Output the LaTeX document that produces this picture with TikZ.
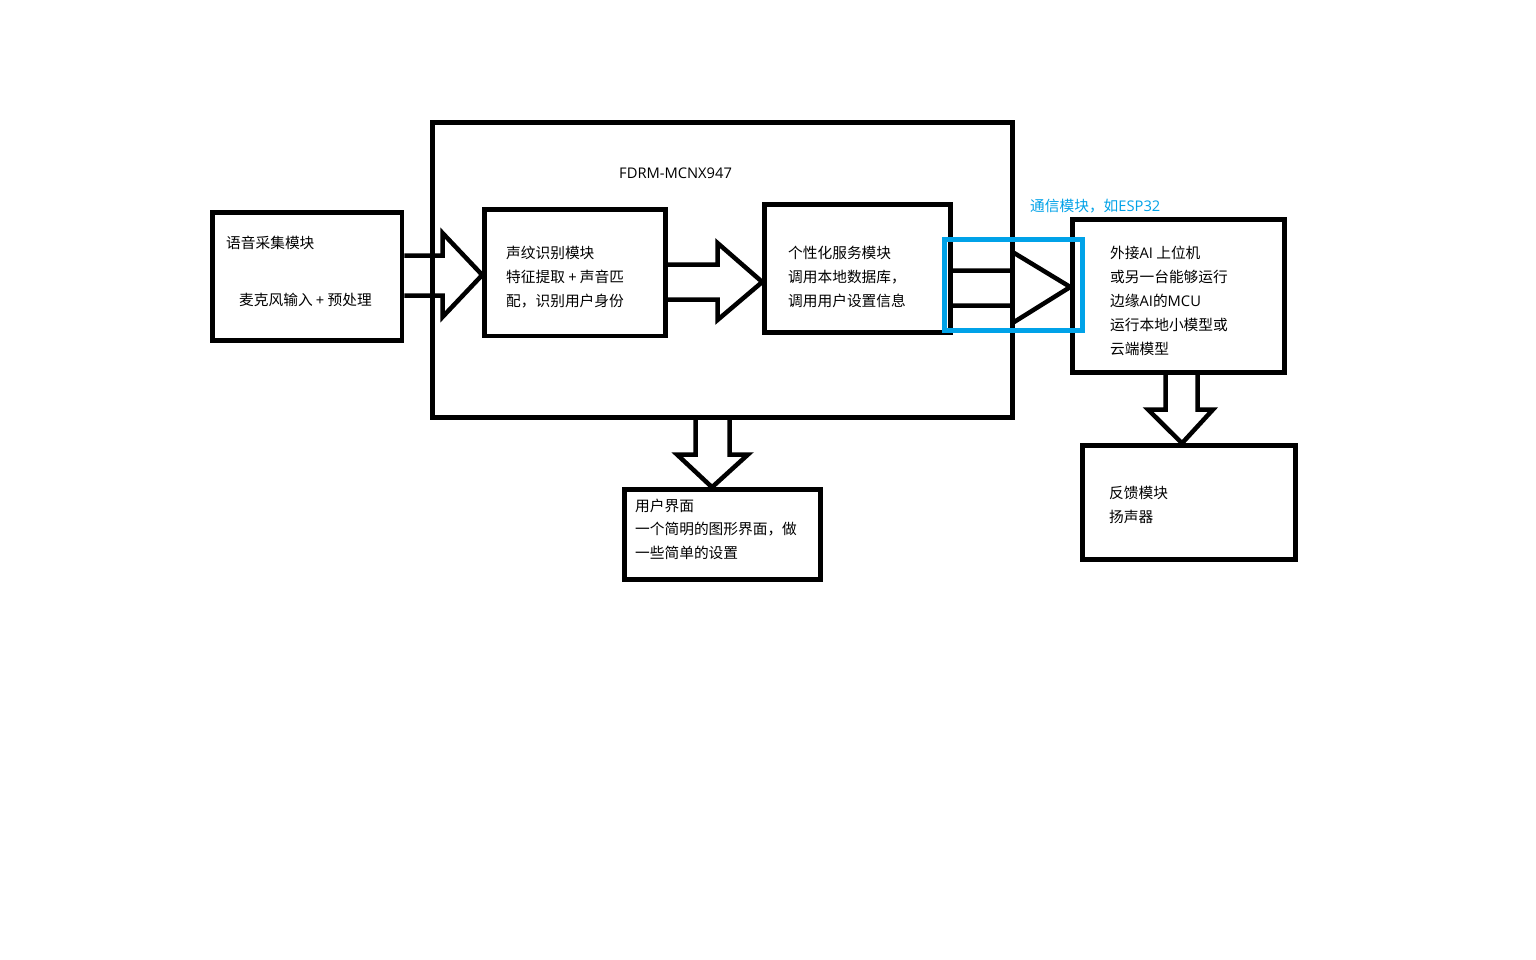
\documentclass[tikz,border=0pt]{standalone}
\usepackage{fontspec}
\setmainfont{Noto Sans CJK SC}
\newfontfamily\latf{Open Sans}
\newcommand\lat[1]{{\latf #1}}
\usetikzlibrary{calc}
\definecolor{paintblue}{HTML}{00A2E8}
\begin{document}
\begin{tikzpicture}[x=1pt,y=-1pt,
  box/.style={draw=black, line width=4.5pt, inner sep=0pt},
  blk/.style={draw=black, line width=4.5pt, line join=miter},
  bluebox/.style={draw=paintblue, line width=4.5pt, inner sep=0pt},
  txt/.style={anchor=base west, inner sep=0pt, font=\fontsize{14.7}{18}\selectfont}]
\useasboundingbox[fill=white] (0,0) rectangle (1536,960);
% boxes
\node[box, minimum width=189.5pt, minimum height=128pt] (b1) at (307.25,276.5) {};
\node[box, minimum width=580pt, minimum height=295pt] (big) at (722.5,270) {};
\node[box, minimum width=181pt, minimum height=126.5pt] (b2) at (575,272.75) {};
\node[box, minimum width=186pt, minimum height=128pt] (b3) at (857.5,268.5) {};
\node[box, minimum width=212pt, minimum height=153pt] (b4) at (1178.5,296) {};
\node[box, minimum width=213pt, minimum height=114pt] (b5) at (1189,502.5) {};
\node[box, minimum width=196pt, minimum height=90pt] (b6) at (722.5,534.5) {};
% block arrows
\draw[blk] (b1.east |- 0,255.5) -- (442.5,255.5) -- (442.5,233) -- (b2.west |- 0,275)
  -- (442.5,317) -- (442.5,295.5) -- (b1.east |- 0,295.5);
\draw[blk] (b2.east |- 0,264.5) -- (717.5,264.5) -- (717.5,243) -- (b3.west |- 0,282)
  -- (717.5,320) -- (717.5,299.5) -- (b2.east |- 0,299.5);
\draw[blk] (b3.east |- 0,270.5) -- (1012.5,270.5) -- (1012.5,252) -- (b4.west |- 0,287)
  -- (1012.5,323) -- (1012.5,305.5) -- (b3.east |- 0,305.5);
\draw[blk] (695.5,0 |- big.south) -- (695.5,454.5) -- (677,454.5) -- (712,0 |- b6.north)
  -- (748,454.5) -- (729.5,454.5) -- (729.5,0 |- big.south);
\draw[blk] (1165.5,0 |- b4.south) -- (1165.5,409.5) -- (1148,409.5) -- (1182,0 |- b5.north)
  -- (1213,409.5) -- (1197.5,409.5) -- (1197.5,0 |- b4.south);
% communication module highlight
\node[bluebox, minimum width=138pt, minimum height=91pt] (comm) at (1013.5,285) {};
% texts
\node[txt] (t1a) at (226,248.6) {语音采集模块};
\node[txt] (t1b) at (239,305.6) {麦克风输入 \lat{+} 预处理};
\node[txt] (tf) at (619,178.3) {\lat{FDRM-MCNX947}};
\node[txt] (t2a) at (506,258.1) {声纹识别模块};
\node[txt] (t2b) at (506,282.1) {特征提取 \lat{+} 声音匹};
\node[txt] (t2c) at (506,306.1) {配，识别用户身份};
\node[txt] (t3a) at (788,258.1) {个性化服务模块};
\node[txt] (t3b) at (788,282.1) {调用本地数据库，};
\node[txt] (t3c) at (788,306.1) {调用用户设置信息};
\node[txt, text=paintblue] (tc) at (1030,211.6) {通信模块，如\lat{ESP32}};
\node[txt] (t4a) at (1110,258.1) {外接\lat{AI} 上位机};
\node[txt] (t4b) at (1110,282.1) {或另一台能够运行};
\node[txt] (t4c) at (1110,306.1) {边缘\lat{AI}的\lat{MCU}};
\node[txt] (t4d) at (1110,330.1) {运行本地小模型或};
\node[txt] (t4e) at (1110,354.1) {云端模型};
\node[txt] (t5a) at (1109,498.6) {反馈模块};
\node[txt] (t5b) at (1109,522.6) {扬声器};
\node[txt] (t6a) at (635,511.6) {用户界面};
\node[txt] (t6b) at (635,534.6) {一个简明的图形界面，做};
\node[txt] (t6c) at (635,558.6) {一些简单的设置};
\end{tikzpicture}
\end{document}
